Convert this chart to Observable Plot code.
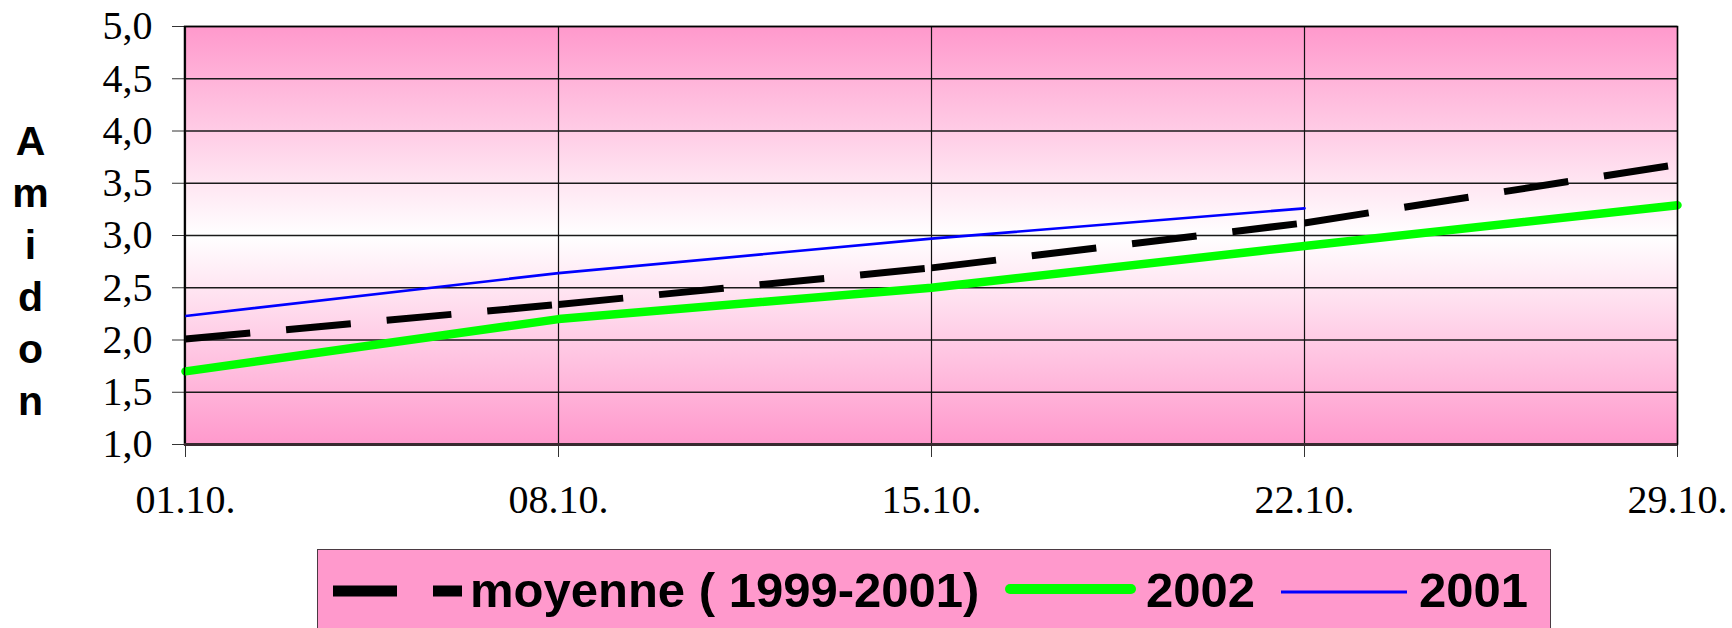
<!DOCTYPE html>
<html>
<head>
<meta charset="utf-8">
<script src="https://cdn.jsdelivr.net/npm/d3@7"></script>
<script src="https://cdn.jsdelivr.net/npm/@observablehq/plot@0.6"></script>
<style>
  body { margin: 0; background: #fff; }
  #wrap { position: relative; width: 1732px; height: 628px; overflow: hidden; }
  #legend { position: absolute; left: 317px; top: 549px; width: 1234px; height: 100px;
            background: #FF99CC; border: 1.5px solid #4a3a42; box-sizing: border-box; }
  #legend svg { position: absolute; left: -1.5px; top: -1.5px; }
</style>
</head>
<body>
<div id="wrap"></div>
<script>
// ---- data ----
const dates = ["01.10.", "08.10.", "15.10.", "22.10.", "29.10."];
const moyenne = [2.01, 2.34, 2.69, 3.12, 3.68];
const values2002 = [1.70, 2.20, 2.50, 2.90, 3.29];
const values2001 = [2.23, 2.64, 2.97, 3.26, null];
const yTicks = [1.0, 1.5, 2.0, 2.5, 3.0, 3.5, 4.0, 4.5, 5.0];
const yLabel = "Amidon";
const seriesNames = ["moyenne ( 1999-2001)", "2002", "2001"];
const seriesColors = ["#000000", "#00FF00", "#0000FF"];

// ---- derived tables ----
const rows = vals => dates.map((d, i) => ({date: d, value: vals[i]})).filter(r => r.value != null);
// dashed series split into segments so the dash pattern restarts at each point (as in the source)
const moyenneSegs = [];
for (let i = 0; i < dates.length - 1; i++) {
  moyenneSegs.push({seg: i, date: dates[i], value: moyenne[i]});
  moyenneSegs.push({seg: i, date: dates[i + 1], value: moyenne[i + 1]});
}
const fmt = d => d.toFixed(1).replace(".", ",");
const serif = "'Liberation Serif', 'Times New Roman', serif";
const sans = "'Liberation Sans', Arial, sans-serif";

const svg = Plot.plot({
  width: 1732,
  height: 540,
  marginTop: 26,
  marginBottom: 96,
  marginLeft: 184,
  marginRight: 55,
  style: {fontFamily: serif, fontSize: "40px", color: "#000", background: "transparent", overflow: "visible"},
  x: {type: "point", domain: dates, padding: 0, label: null},
  y: {domain: [1, 5], label: null},
  marks: [
    Plot.frame({fill: "url(#amidonBg)", stroke: "none"}),
    Plot.gridY(yTicks, {stroke: "#1a1a1a", strokeOpacity: 1, strokeWidth: 1.4}),
    Plot.gridX({stroke: "#111", strokeOpacity: 1, strokeWidth: 1.2}),
    Plot.axisY(yTicks, {tickSize: 12, tickPadding: 20, tickFormat: fmt, fontSize: 40, stroke: "#333", label: null}),
    Plot.axisX({tickSize: 13, tickPadding: 27, fontSize: 40, stroke: "#333", label: null}),
    Plot.line(moyenneSegs, {x: "date", y: "value", z: "seg", stroke: seriesColors[0], strokeWidth: 7,
      strokeDasharray: "65,36", strokeLinecap: "butt", strokeLinejoin: "miter"}),
    Plot.line(rows(values2002), {x: "date", y: "value", stroke: seriesColors[1], strokeWidth: 8.5}),
    Plot.line(rows(values2001), {x: "date", y: "value", stroke: seriesColors[2], strokeWidth: 2.6}),
    Plot.frame({stroke: "#000", strokeWidth: 1.5}),
    Plot.ruleY([1], {stroke: "#3a2a30", strokeWidth: 3}),
    Plot.text([yLabel.split("").join("\n")], {
      text: d => d, frameAnchor: "top-left", dx: -154, dy: 92, lineAnchor: "top",
      textAnchor: "middle", lineHeight: 52 / 41, fontFamily: sans, fontWeight: "bold", fontSize: 41, fill: "#000"
    })
  ]
});

const ns = "http://www.w3.org/2000/svg";
const defs = document.createElementNS(ns, "defs");
defs.innerHTML = '<linearGradient id="amidonBg" x1="0" y1="0" x2="0" y2="1">' +
  '<stop offset="0" stop-color="#FF99CC"/>' +
  '<stop offset="0.5" stop-color="#FFFFFF"/>' +
  '<stop offset="1" stop-color="#FF99CC"/></linearGradient>';
svg.insertBefore(defs, svg.firstChild);

const wrap = document.getElementById("wrap");
wrap.appendChild(svg);

// ---- legend (below the plot) ----
const legendDiv = document.createElement("div");
legendDiv.id = "legend";
wrap.appendChild(legendDiv);
const leg = d3.select(legendDiv).append("svg").attr("width", 1240).attr("height", 100)
  .style("font-family", sans).style("font-weight", "bold").style("font-size", "49px");
const items = [
  {x1: 16, x2: 145, y: 42, w: 11, dash: "64,36", cap: "butt", tx: 153},
  {x1: 693, x2: 814, y: 40, w: 10, dash: null, cap: "round", tx: 829},
  {x1: 964, x2: 1090, y: 43, w: 3, dash: null, cap: "butt", tx: 1102}
];
items.forEach((it, i) => {
  leg.append("line").attr("x1", it.x1).attr("x2", it.x2).attr("y1", it.y).attr("y2", it.y)
    .attr("stroke", seriesColors[i]).attr("stroke-width", it.w).attr("stroke-linecap", it.cap)
    .attr("stroke-dasharray", it.dash);
  leg.append("text").attr("x", it.tx).attr("y", 58).attr("fill", "#000").text(seriesNames[i]);
});
</script>
</body>
</html>
